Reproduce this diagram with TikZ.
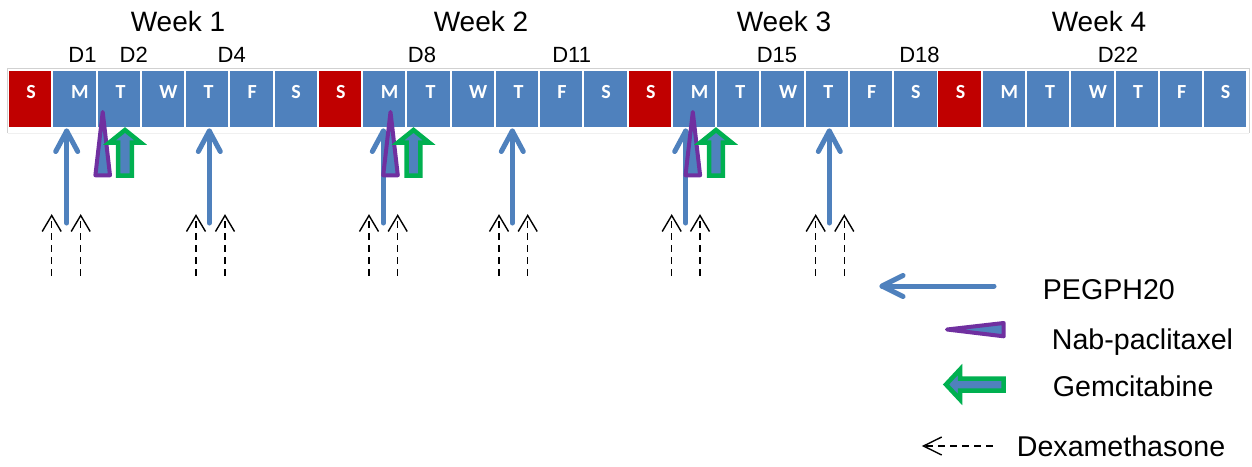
\documentclass[tikz,border=0pt]{standalone}
\usepackage{fontspec}
\setmainfont{Liberation Sans}
\newfontfamily\dayfont{Carlito}
\usetikzlibrary{arrows.meta}
\definecolor{cblue}{HTML}{4F81BD}
\definecolor{cred}{HTML}{C00000}
\definecolor{cpurple}{HTML}{7030A0}
\definecolor{cgreen}{HTML}{00B050}
\begin{document}
\begin{tikzpicture}[x=1pt,y=-1pt,
  cellbox/.style={minimum width=42.3pt,minimum height=55.7pt,inner sep=0pt,draw=none},
  daylbl/.style={anchor=base,inner sep=0pt,text=white,font=\dayfont\bfseries\fontsize{20}{21}\selectfont},
  weeklbl/.style={anchor=base,inner sep=0pt,font=\fontsize{28}{30}\selectfont},
  daynum/.style={anchor=base,inner sep=0pt,font=\fontsize{22}{24}\selectfont},
  leglbl/.style={anchor=base west,inner sep=0pt,font=\fontsize{28.6}{30}\selectfont},
  peg/.style={cblue,line width=5pt,line cap=round,line join=round},
  nab/.style={draw=cpurple,fill=cblue,line width=4pt,line join=round},
  gem/.style={draw=cgreen,fill=cblue,line width=4.5pt,line join=miter},
  dexshaft/.style={black,line width=1.4pt,dash pattern=on 7pt off 5pt},
  dextip/.style={black,line width=1.4pt,line join=miter}]
\useasboundingbox (0,0) rectangle (1252,466);
\fill[white] (0,0) rectangle (1252,466);
% strip frame
\draw[black!18,line width=0.8pt] (7.5,133) -- (7.5,68.5) -- (1249,68.5) -- (1249,133);
\draw[black!6,line width=1pt] (7.5,133) -- (1249,133);
% cells
\foreach \i in {0,...,27} {
  \pgfmathsetmacro\xc{9+44.26*\i+21.15}
  \pgfmathtruncatemacro\dd{mod(\i,7)}
  \def\cellcol{cblue}
  \ifnum\dd=0\relax \def\cellcol{cred}\fi
  \ifcase\dd\relax \def\off{1}\def\dlet{S}%
  \or \def\off{5.5}\def\dlet{M}%
  \or \def\off{2}\def\dlet{T}%
  \or \def\off{5.5}\def\dlet{W}%
  \or \def\off{1.5}\def\dlet{T}%
  \or \def\off{0.7}\def\dlet{F}%
  \or \def\off{0.5}\def\dlet{S}%
  \fi
  \node[cellbox,fill=\cellcol] (c\i) at (\xc,98.85) {};
  \node[daylbl] (l\i) at (\xc+\off,98.5) {\dlet};
}
% week labels
\node[weeklbl] (w1) at (178,31) {Week 1};
\node[weeklbl] (w2) at (481,31) {Week 2};
\node[weeklbl] (w3) at (784,31) {Week 3};
\node[weeklbl] (w4) at (1099,31) {Week 4};
% day numbers
\node[daynum] (d1) at (82.5,62.5) {D1};
\node[daynum] (d2) at (133.8,62.5) {D2};
\node[daynum] (d4) at (231.7,62.5) {D4};
\node[daynum] (d8) at (422,62.5) {D8};
\node[daynum] (d11) at (571.7,62.5) {D11};
\node[daynum] (d15) at (777,62.5) {D15};
\node[daynum] (d18) at (919.5,62.5) {D18};
\node[daynum] (d22) at (1118,62.5) {D22};
% PEGPH20 arrows
\foreach \x in {66.7,209.3,383.3,512.3,685.7,829.3} {
  \draw[peg] (\x,223) -- (\x,131);
  \draw[peg] (\x-11,151.5) -- (\x,131) -- (\x+11,151.5);
}
% Nab-paclitaxel triangles
\foreach \x in {102.7,390.5,692.8} {
  \draw[nab] (\x,112) -- (\x-7.3,175.3) -- (\x+7.3,175.3) -- cycle;
}
% Gemcitabine block arrows
\foreach \x in {125,413.5,716} {
  \draw[gem] (\x,130) -- (\x+15.5,142.5) -- (\x+6.8,142.5) -- (\x+6.8,175.7)
     -- (\x-6.8,175.7) -- (\x-6.8,142.5) -- (\x-15.5,142.5) -- cycle;
}
% Dexamethasone arrows
\foreach \x in {51.7,80.7,196,225,369,397.7,499,527.7,671.7,700,815.7,844.3} {
  \draw[dexshaft] (\x,221) -- (\x,276);
  \draw[dextip] (\x-9.5,231.5) -- (\x,215.5) -- (\x+9.5,231.5);
}
% legend
\draw[peg] (994,286) -- (882,286);
\draw[peg] (903,275.5) -- (882,286) -- (903,296.5);
\node[leglbl] (lp) at (1042.7,299.3) {PEGPH20};
\draw[nab] (947,329.5) -- (1003.7,323) -- (1003.7,336.3) -- cycle;
\node[leglbl] (ln) at (1051.7,349.3) {Nab-paclitaxel};
\draw[gem] (946,384.5) -- (960,369.5) -- (960,378.5) -- (1003.5,378.5)
   -- (1003.5,390.5) -- (960,390.5) -- (960,399.5) -- cycle;
\node[leglbl] (lg) at (1052.7,396.7) {Gemcitabine};
\draw[dexshaft] (926,446) -- (993,446);
\draw[dextip] (941.7,437) -- (923.5,446) -- (941.7,455);
\node[leglbl] (ld) at (1016.7,456.7) {Dexamethasone};
\end{tikzpicture}
\end{document}
